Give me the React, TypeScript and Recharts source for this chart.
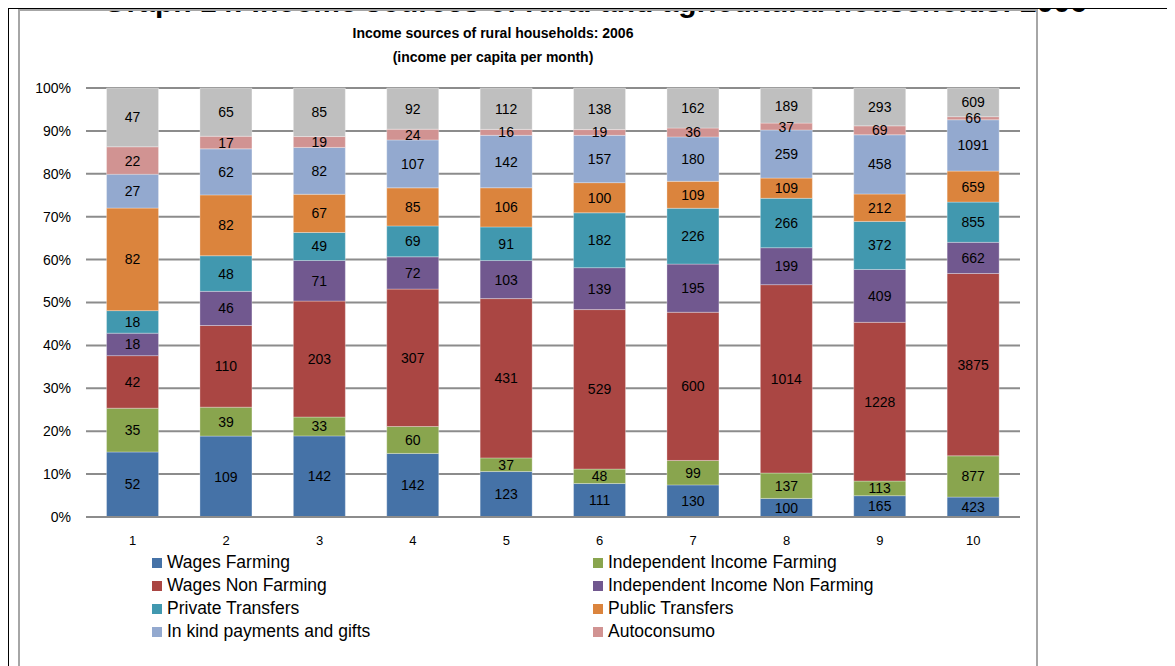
import {
  BarChart,
  Bar,
  XAxis,
  YAxis,
  CartesianGrid,
  LabelList,
} from "recharts";

const categories = ["1", "2", "3", "4", "5", "6", "7", "8", "9", "10"];

const wagesFarming = [52, 109, 142, 142, 123, 111, 130, 100, 165, 423];
const indepFarming = [35, 39, 33, 60, 37, 48, 99, 137, 113, 877];
const wagesNonFarming = [42, 110, 203, 307, 431, 529, 600, 1014, 1228, 3875];
const indepNonFarming = [18, 46, 71, 72, 103, 139, 195, 199, 409, 662];
const privateTransfers = [18, 48, 49, 69, 91, 182, 226, 266, 372, 855];
const publicTransfers = [82, 82, 67, 85, 106, 100, 109, 109, 212, 659];
const inKind = [27, 62, 82, 107, 142, 157, 180, 259, 458, 1091];
const autoconsumo = [22, 17, 19, 24, 16, 19, 36, 37, 69, 66];
const other = [47, 65, 85, 92, 112, 138, 162, 189, 293, 609];

const yTicks = [0, 0.1, 0.2, 0.3, 0.4, 0.5, 0.6, 0.7, 0.8, 0.9, 1];

// stacking order, bottom to top
const series = [
  { key: "wf", name: "Wages Farming", values: wagesFarming, color: "#4572A7", legend: true },
  { key: "if", name: "Independent Income Farming", values: indepFarming, color: "#89A54E", legend: true },
  { key: "wn", name: "Wages Non Farming", values: wagesNonFarming, color: "#AA4643", legend: true },
  { key: "in", name: "Independent Income Non Farming", values: indepNonFarming, color: "#71588F", legend: true },
  { key: "pr", name: "Private Transfers", values: privateTransfers, color: "#4198AF", legend: true },
  { key: "pu", name: "Public Transfers", values: publicTransfers, color: "#DB843D", legend: true },
  { key: "ik", name: "In kind payments and gifts", values: inKind, color: "#93A9CF", legend: true },
  { key: "au", name: "Autoconsumo", values: autoconsumo, color: "#D19392", legend: true },
  { key: "ot", name: "Other", values: other, color: "#BFBFBF", legend: false },
];

const data = categories.map((c, i) => {
  const row: Record<string, string | number> = { cat: c };
  series.forEach((s) => {
    row[s.key] = s.values[i];
  });
  return row;
});

const font = "'Liberation Sans', Arial, sans-serif";

export default function App() {
  const legendItems = series.filter((s) => s.legend);
  return (
    <div
      style={{
        position: "relative",
        width: 1175,
        height: 666,
        margin: "-8px 0 0 -8px",
        overflow: "hidden",
        background: "#fff",
        fontFamily: font,
      }}
    >
      {/* page heading, mostly cut off above like in the scan */}
      <div
        style={{
          position: "absolute",
          left: 0,
          width: 1190,
          top: -16,
          textAlign: "center",
          fontSize: 30,
          lineHeight: "36px",
          fontWeight: "bold",
          color: "#000",
          whiteSpace: "nowrap",
        }}
      >
        Graph 14: Income sources of rural and agricultural households: 2006
      </div>
      {/* black page frame */}
      <div style={{ position: "absolute", left: 7, top: 6, width: 1168, height: 3, background: "#000" }} />
      <div style={{ position: "absolute", left: 7, top: 6, width: 2, height: 660, background: "#000" }} />
      {/* chart frame */}
      <div
        style={{
          position: "absolute",
          left: 18,
          top: 9,
          width: 1016,
          height: 700,
          border: "2px solid #a6a6a6",
        }}
      />
      <div
        style={{
          position: "absolute",
          left: 293,
          width: 400,
          top: 21,
          textAlign: "center",
          fontSize: 14,
          fontWeight: "bold",
          lineHeight: "24px",
          color: "#000",
        }}
      >
        <div>Income sources of rural households: 2006</div>
        <div>(income per capita per month)</div>
      </div>

      <div style={{ position: "absolute", left: 0, top: 0 }}>
        <BarChart
          width={1175}
          height={666}
          data={data}
          stackOffset="expand"
          barCategoryGap="22%"
          margin={{ top: 88, right: 155, bottom: 119, left: 26 }}
        >
          <CartesianGrid vertical={false} stroke="#8c8c8c" strokeWidth={2} />
          <XAxis
            dataKey="cat"
            axisLine={{ stroke: "#8c8c8c", strokeWidth: 2 }}
            tickLine={false}
            tickMargin={13}
            height={30}
            tick={{ fill: "#000", fontSize: 13, fontFamily: font }}
          />
          <YAxis
            width={60}
            domain={[0, 1]}
            ticks={yTicks}
            tickFormatter={(v: number) => `${Math.round(v * 100)}%`}
            axisLine={false}
            tickLine={false}
            tickMargin={9}
            tick={{ fill: "#000", fontSize: 14, fontFamily: font }}
          />
          {series.map((s) => (
            <Bar
              key={s.key}
              dataKey={s.key}
              name={s.name}
              stackId="a"
              fill={s.color}
              stroke="rgba(255,255,255,0.3)"
              strokeWidth={1}
              isAnimationActive={false}
            >
              <LabelList
                dataKey={s.key}
                position="center"
                fill="#000"
                fontSize={14}
                fontFamily={font}
              />
            </Bar>
          ))}
        </BarChart>
      </div>

      {/* legend */}
      <div
        style={{
          position: "absolute",
          left: 152,
          top: 551,
          display: "grid",
          gridTemplateColumns: "441px 300px",
          rowGap: 0,
          fontSize: 17.5,
          color: "#000",
        }}
      >
        {legendItems.map((s) => (
          <div key={s.key} style={{ display: "flex", alignItems: "center", height: 23 }}>
            <span
              style={{
                display: "inline-block",
                width: 10,
                height: 10,
                background: s.color,
                marginRight: 5,
              }}
            />
            <span>{s.name}</span>
          </div>
        ))}
      </div>
    </div>
  );
}
